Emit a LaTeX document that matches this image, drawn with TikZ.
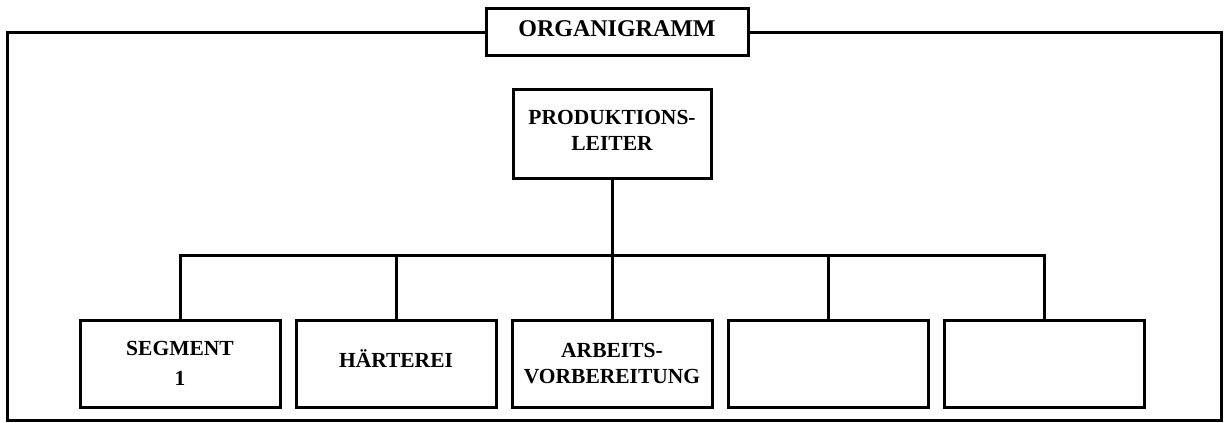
\documentclass[tikz,border=0pt]{standalone}
\usepackage{fontspec}
\setmainfont{Liberation Serif}
\begin{document}
\begin{tikzpicture}[x=1pt,y=-1pt,
  line width=3pt,
  orgbox/.style={draw, fill=white, rectangle, inner sep=0pt, align=center,
    font=\bfseries\fontsize{21.5}{26}\selectfont},
  unitbox/.style={orgbox, minimum width=200pt, minimum height=87pt},
  titlebox/.style={orgbox, minimum width=262pt, minimum height=47pt,
    font=\bfseries\fontsize{24}{29}\selectfont, text depth=6pt}
]
\useasboundingbox (0,0) rectangle (1224,423);

% outer frame
\draw (7,32) rectangle (1221,420);

% title on the frame
\node[titlebox] (title) at (617,31.5) {ORGANIGRAMM};

% head of production
\node[orgbox, minimum width=198pt, minimum height=89pt, text depth=6pt] (pl) at (612,133.5)
  {PRODUKTIONS-\\LEITER};

% departments
\node[unitbox] (b1) at (180,363.5) {SEGMENT\\[4pt]1};
\node[unitbox, text depth=10pt] (b2) at (396,363.5) {HÄRTEREI};
\node[unitbox] (b3) at (612,363.5) {ARBEITS-\\VORBEREITUNG};
\node[unitbox] (b4) at (828,363.5) {};
\node[unitbox] (b5) at (1044,363.5) {};

% connecting lines
\coordinate (bus) at (612,255);
\draw (pl.south) -- (b3.north);
\draw (b1.north) -- (b1.north |- bus) -- (b5.north |- bus) -- (b5.north);
\draw (b2.north) -- (b2.north |- bus);
\draw (b4.north) -- (b4.north |- bus);
\end{tikzpicture}
\end{document}
